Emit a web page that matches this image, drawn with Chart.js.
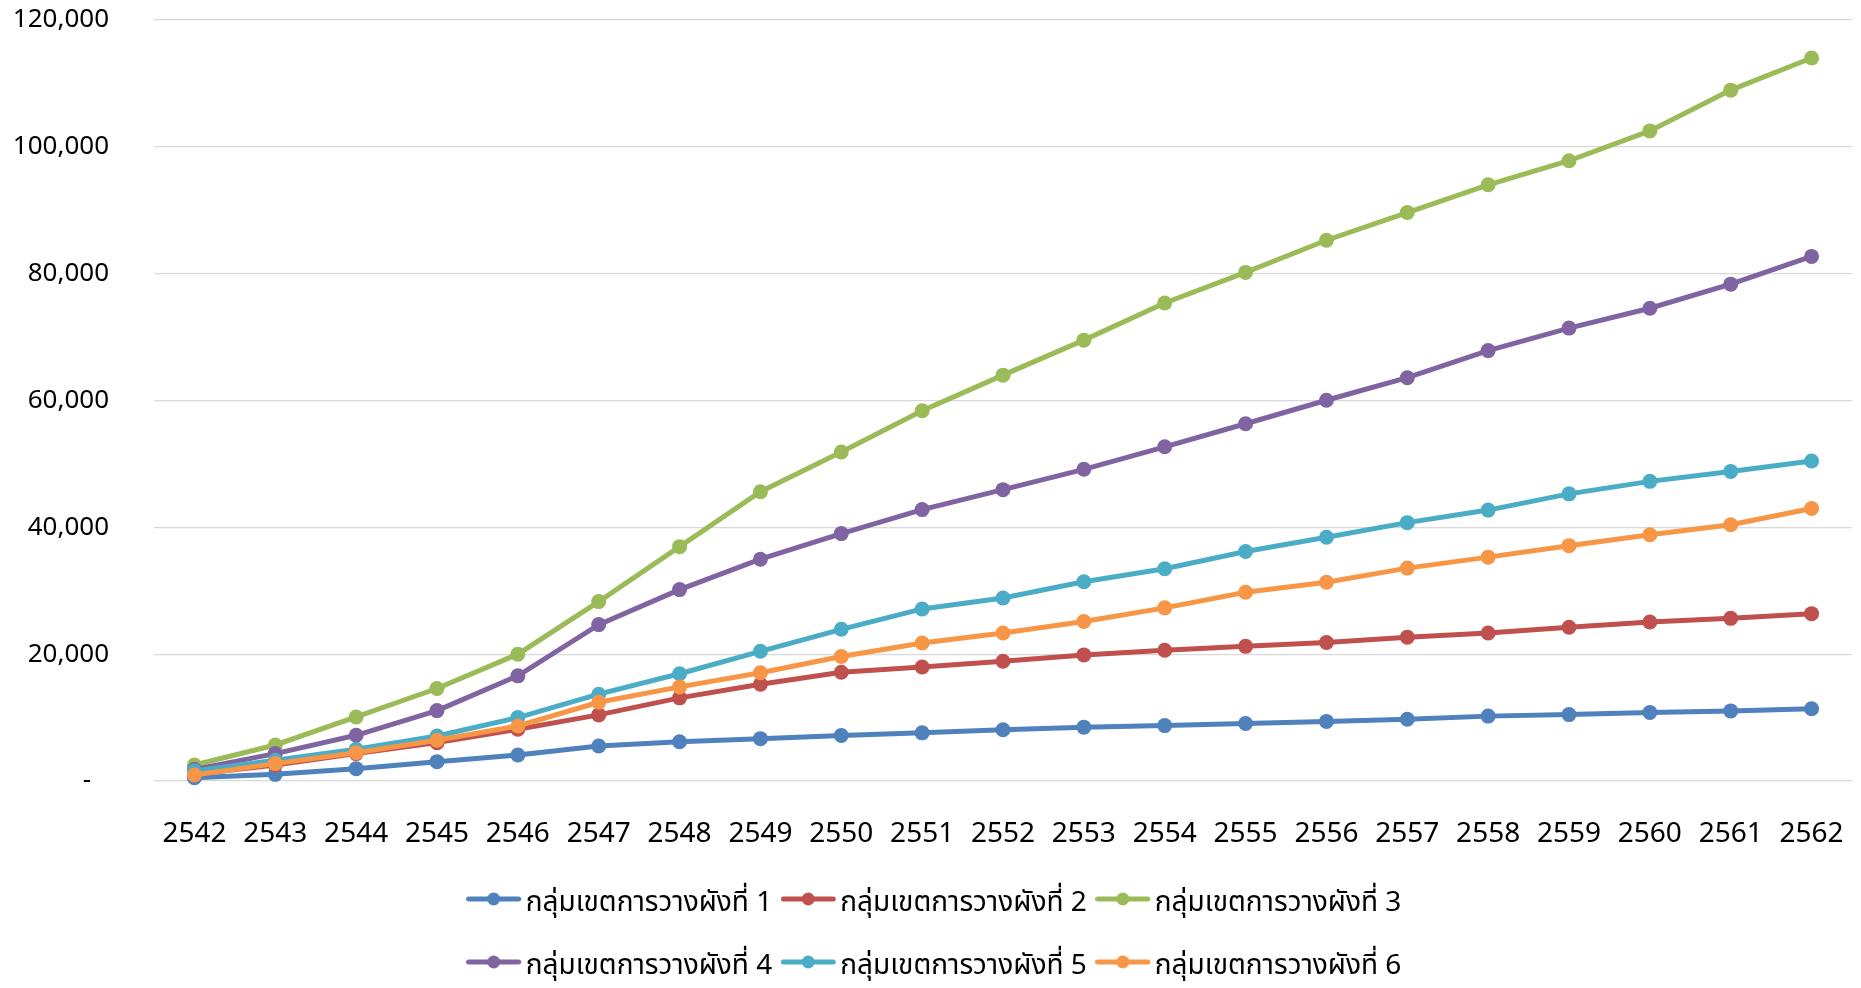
<!DOCTYPE html>
<html><head><meta charset="utf-8">
<script src="https://cdn.jsdelivr.net/npm/chart.js@4.4.1/dist/chart.umd.min.js"></script>
<style>html,body{margin:0;padding:0;background:#fff;overflow:hidden}#wrap{width:1861px;height:988px;position:relative}</style>
</head><body><div id="wrap"><canvas id="c" width="1861" height="988"></canvas></div>
<script>
const years = ['2542','2543','2544','2545','2546','2547','2548','2549','2550','2551','2552','2553','2554','2555','2556','2557','2558','2559','2560','2561','2562'];
const seriesNames = ['กลุ่มเขตการวางผังที่ 1','กลุ่มเขตการวางผังที่ 2','กลุ่มเขตการวางผังที่ 3','กลุ่มเขตการวางผังที่ 4','กลุ่มเขตการวางผังที่ 5','กลุ่มเขตการวางผังที่ 6'];
const seriesColors = ['#4F81BD','#C0504D','#9BBB59','#8064A2','#4BACC6','#F79646'];
const group1 = [530,1050,1950,3050,4100,5530,6190,6680,7170,7590,8080,8490,8740,9070,9400,9730,10230,10470,10800,11050,11400];
const group2 = [1050,2530,4320,6050,8160,10420,13110,15260,17150,17980,18890,19880,20620,21230,21850,22680,23340,24250,25070,25650,26390];
const group3 = [2530,5680,10100,14580,20000,28290,36950,45610,51870,58390,64000,69520,75380,80200,85270,89640,94010,97810,102510,108940,114000];
const group4 = [1840,4320,7210,11100,16580,24660,30180,34970,39010,42800,45940,49150,52700,56330,60040,63590,67870,71420,74550,78350,82720];
const group5 = [1580,3260,5000,7100,10000,13690,16910,20450,23920,27130,28860,31420,33480,36200,38430,40740,42720,45280,47250,48820,50470];
const group6 = [950,2740,4470,6420,8680,12410,14840,17070,19630,21770,23340,25150,27300,29770,31340,33570,35300,37110,38840,40410,42970];
const yTicksMax = 120000;
const yTicksStep = 20000;
const allSeries = [group1,group2,group3,group4,group5,group6];

const LEG_FONT = 28, LEG_PAD = 35, LEG_BOXW = 19;
const LINE_LEFT = 36;
function markerImage(color){
  const c = document.createElement('canvas');
  c.width = 2*LINE_LEFT; c.height = 28;
  const g = c.getContext('2d');
  g.strokeStyle = color; g.lineWidth = 5; g.lineCap = 'round';
  g.beginPath(); g.moveTo(2.5, 8); g.lineTo(52.5, 8); g.stroke();
  g.fillStyle = color; g.beginPath(); g.arc(27.5, 8, 6.5, 0, Math.PI*2); g.fill();
  return c;
}
const markers = seriesColors.map(markerImage);

const WRAP_W = 1100;
const LEG_CX = 947;
const LEG_SHIFT_Y = 5;
const legendWrap = {
  id: 'legendWrap',
  beforeLayout(chart){
    const lg = chart.legend;
    if (lg && !lg.__patched){
      const orig = lg.update;
      lg.update = function(mw, mh, m){ return orig.call(this, Math.min(mw, WRAP_W), mh, m); };
      lg.__patched = true;
    }
  },
  afterLayout(chart){
    const lg = chart.legend;
    lg.left = LEG_CX - WRAP_W/2; lg.right = LEG_CX + WRAP_W/2; lg.width = WRAP_W;
    lg.top += LEG_SHIFT_Y; lg.bottom += LEG_SHIFT_Y;
  }
};

const thaiFont = "'Noto Sans Thai','Noto Sans','DejaVu Sans',sans-serif";
const numFont = "'Noto Sans','DejaVu Sans',sans-serif";

new Chart(document.getElementById('c'), {
  type: 'line',
  data: {
    labels: years,
    datasets: allSeries.map((d,i)=>({
      label: seriesNames[i],
      data: d,
      borderColor: seriesColors[i],
      backgroundColor: seriesColors[i],
      borderWidth: 5,
      pointRadius: 7.5,
      pointHoverRadius: 7.5,
      pointBorderWidth: 0,
      tension: 0,
      clip: false,
      order: 6 - i
    }))
  },
  options: {
    responsive: false,
    animation: false,
    layout: { padding: { top: 20, right: 9, left: 0, bottom: 1 } },
    plugins: {
      tooltip: { enabled: false },
      legend: {
        position: 'bottom',
        labels: {
          usePointStyle: true,
          pointStyleWidth: LEG_BOXW,
          padding: LEG_PAD,
          color: '#000',
          font: { family: thaiFont, size: LEG_FONT },
          sort: (a,b)=>a.datasetIndex-b.datasetIndex,
          generateLabels(chart){
            const items = Chart.defaults.plugins.legend.labels.generateLabels(chart);
            items.forEach(it=>{ it.pointStyle = markers[it.datasetIndex]; });
            return items;
          }
        }
      }
    },
    scales: {
      x: {
        offset: true,
        grid: { display: false, drawTicks: false },
        border: { display: false },
        ticks: { color: '#000', font: { family: numFont, size: 28 }, padding: 36, maxRotation: 0, autoSkip: false },
        afterFit(s){ s.height = 70; s.paddingLeft = 0; s.paddingRight = 0; }
      },
      y: {
        min: 0, max: yTicksMax,
        grid: { color: '#d9d9d9', lineWidth: 1.3, drawTicks: false },
        border: { display: false },
        ticks: {
          stepSize: yTicksStep, color: '#000', padding: 45,
          font: { family: numFont, size: 26 },
          callback: v => v === 0 ? '-  \u2009' : v.toLocaleString('en-US')
        },
        afterFit(s){ s.width = 154; s.paddingTop = 0; s.paddingBottom = 0; }
      }
    }
  },
  plugins: [legendWrap]
});
</script></body></html>
